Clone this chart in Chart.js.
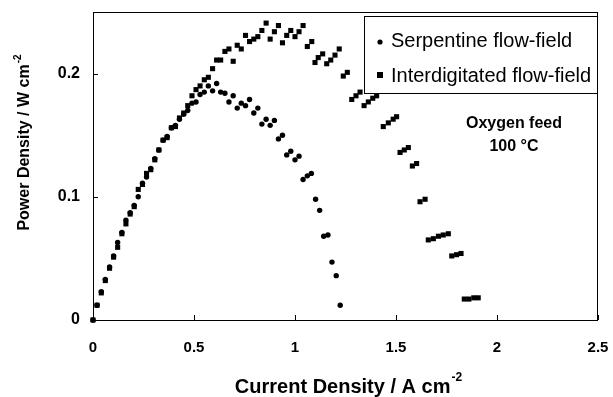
<!DOCTYPE html>
<html>
<head>
<meta charset="utf-8">
<script src="https://cdn.jsdelivr.net/npm/chart.js@4/dist/chart.umd.min.js"></script>
<style>
  html, body { margin: 0; padding: 0; background: #fff; }
  #wrap { width: 613px; height: 397px; }
</style>
</head>
<body>
<div id="wrap"><canvas id="chart" width="613" height="397"></canvas></div>
<script>
// serpentine flow-field (circles)
const serpX = [0, 0.020, 0.041, 0.061, 0.082, 0.102, 0.122, 0.143, 0.163, 0.184, 0.204, 0.224, 0.245, 0.265, 0.286, 0.306, 0.326, 0.347, 0.367, 0.388, 0.408, 0.428, 0.449, 0.469, 0.490, 0.510, 0.530, 0.551, 0.571, 0.592, 0.612, 0.632, 0.653, 0.673, 0.694, 0.714, 0.734, 0.755, 0.775, 0.796, 0.816, 0.836, 0.857, 0.877, 0.898, 0.918, 0.938, 0.959, 0.979, 1.000, 1.020, 1.040, 1.061, 1.081, 1.102, 1.122, 1.142, 1.163, 1.183, 1.204, 1.224];
const serpY = [0, 0.012, 0.023, 0.033, 0.043, 0.052, 0.063, 0.071, 0.081, 0.087, 0.093, 0.100, 0.111, 0.116, 0.123, 0.131, 0.138, 0.146, 0.149, 0.156, 0.158, 0.163, 0.167, 0.170, 0.176, 0.177, 0.183, 0.185, 0.190, 0.186, 0.192, 0.185, 0.184, 0.177, 0.182, 0.172, 0.176, 0.174, 0.179, 0.168, 0.172, 0.159, 0.163, 0.158, 0.162, 0.147, 0.150, 0.134, 0.137, 0.130, 0.133, 0.114, 0.117, 0.119, 0.098, 0.089, 0.068, 0.069, 0.047, 0.036, 0.012];

// interdigitated flow-field (squares)
const interX = [0, 0.020, 0.041, 0.061, 0.082, 0.102, 0.122, 0.143, 0.163, 0.184, 0.204, 0.224, 0.245, 0.265, 0.286, 0.306, 0.326, 0.347, 0.367, 0.388, 0.408, 0.428, 0.449, 0.469, 0.490, 0.510, 0.530, 0.551, 0.571, 0.592, 0.612, 0.632, 0.653, 0.673, 0.694, 0.714, 0.734, 0.755, 0.775, 0.796, 0.816, 0.836, 0.857, 0.877, 0.898, 0.918, 0.938, 0.959, 0.979, 1.000, 1.020, 1.040, 1.061, 1.083, 1.099, 1.115, 1.137, 1.157, 1.177, 1.198, 1.219, 1.239, 1.259, 1.281, 1.302, 1.322, 1.342, 1.363, 1.385, 1.404, 1.437, 1.462, 1.486, 1.503, 1.520, 1.541, 1.561, 1.581, 1.602, 1.619, 1.644, 1.660, 1.685, 1.710, 1.734, 1.759, 1.776, 1.800, 1.822, 1.838, 1.861, 1.885, 1.907];
const interY = [0, 0.012, 0.022, 0.032, 0.042, 0.051, 0.059, 0.070, 0.078, 0.086, 0.092, 0.106, 0.110, 0.119, 0.122, 0.130, 0.138, 0.146, 0.148, 0.156, 0.157, 0.164, 0.168, 0.174, 0.182, 0.187, 0.190, 0.195, 0.197, 0.204, 0.211, 0.211, 0.218, 0.220, 0.210, 0.223, 0.220, 0.231, 0.226, 0.228, 0.230, 0.235, 0.241, 0.228, 0.234, 0.239, 0.225, 0.231, 0.235, 0.230, 0.234, 0.239, 0.222, 0.226, 0.209, 0.213, 0.216, 0.208, 0.211, 0.215, 0.220, 0.198, 0.201, 0.179, 0.182, 0.185, 0.174, 0.177, 0.180, 0.182, 0.157, 0.160, 0.163, 0.165, 0.136, 0.138, 0.140, 0.125, 0.127, 0.096, 0.098, 0.065, 0.066, 0.068, 0.069, 0.070, 0.052, 0.053, 0.054, 0.017, 0.017, 0.018, 0.018];

const xTicks = [0, 0.5, 1, 1.5, 2, 2.5];
const yTicks = [0, 0.1, 0.2];
const seriesNames = ["Serpentine flow-field", "Interdigitated flow-field"];
const noteLines = ["Oxygen feed", "100 °C"];
const xTitle = ["Current Density / A cm", "-2"];
const yTitle = ["Power Density / W cm", "-2"];

const FONT = "'Liberation Sans', Arial, sans-serif";
const toPoints = (xs, ys) => xs.map((x, i) => ({ x: x, y: ys[i] }));

// text with a raised exponent, centred on (0,0) of the current transform
function supText(c, parts, size, supSize, rise) {
  c.font = "bold " + size + "px " + FONT;
  const w1 = c.measureText(parts[0]).width;
  c.font = "bold " + supSize + "px " + FONT;
  const w2 = c.measureText(parts[1]).width;
  const x0 = -(w1 + w2) / 2;
  c.textAlign = "left";
  c.textBaseline = "middle";
  c.font = "bold " + size + "px " + FONT;
  c.fillText(parts[0], x0, 0);
  c.font = "bold " + supSize + "px " + FONT;
  c.fillText(parts[1], x0 + w1 + 1, -rise);
}

// frame, inward ticks, axis titles, legend box and note
const decor = {
  id: "decor",
  afterDatasetsDraw(chart) {
    const c = chart.ctx, a = chart.chartArea;
    const sx = chart.scales.x, sy = chart.scales.y;
    c.save();
    c.strokeStyle = "#000";
    c.fillStyle = "#000";
    c.lineWidth = 1;
    c.strokeRect(a.left + 0.5, a.top + 0.5, a.right - a.left - 1, a.bottom - a.top);
    c.beginPath();
    xTicks.forEach(v => {
      const px = Math.round(sx.getPixelForValue(v)) + 0.5;
      c.moveTo(px, a.bottom); c.lineTo(px, a.bottom - 5);
    });
    yTicks.forEach(v => {
      const py = Math.round(sy.getPixelForValue(v)) + 0.5;
      c.moveTo(a.left, py); c.lineTo(a.left + 5, py);
    });
    c.stroke();

    // axis titles
    c.save();
    c.translate(348, 387);
    supText(c, xTitle, 20, 12, 9);
    c.restore();
    c.save();
    c.translate(25, 143);
    c.rotate(-Math.PI / 2);
    supText(c, yTitle, 16, 10, 7);
    c.restore();

    // legend box
    const bx = 364, by = 16, bw = a.right - bx, bh = 77;
    c.fillStyle = "#fff";
    c.fillRect(bx, by, bw, bh);
    c.strokeRect(bx + 0.5, by + 0.5, bw - 1, bh);
    c.fillStyle = "#000";
    c.font = "20px " + FONT;
    c.textAlign = "left";
    c.textBaseline = "middle";
    c.beginPath(); c.arc(380, 42, 2.6, 0, Math.PI * 2); c.fill();
    c.fillRect(377, 72, 6, 6);
    c.fillText(seriesNames[0], 391, 41);
    c.fillText(seriesNames[1], 391, 76);

    // note
    c.font = "bold 16px " + FONT;
    c.textAlign = "center";
    c.fillText(noteLines[0], 514, 124);
    c.fillText(noteLines[1], 514, 147);
    c.restore();
  }
};

new Chart(document.getElementById("chart"), {
  type: "scatter",
  data: {
    datasets: [
      {
        label: seriesNames[1],
        data: toPoints(interX, interY),
        pointStyle: "rect",
        pointRadius: 3.6,
        backgroundColor: "#000",
        borderColor: "#000",
        borderWidth: 0,
        clip: false
      },
      {
        label: seriesNames[0],
        data: toPoints(serpX, serpY),
        pointStyle: "circle",
        pointRadius: 2.7,
        backgroundColor: "#000",
        borderColor: "#000",
        borderWidth: 0,
        clip: false
      }
    ]
  },
  options: {
    responsive: false,
    animation: false,
    layout: { padding: { left: 0, right: 15, top: 12, bottom: 0 } },
    plugins: {
      legend: { display: false },
      tooltip: { enabled: false }
    },
    scales: {
      x: {
        type: "linear",
        min: 0, max: 2.5,
        afterBuildTicks: s => { s.ticks = xTicks.map(v => ({ value: v })); },
        afterFit: s => { s.height = 77; s.paddingLeft = 0; s.paddingRight = 0; },
        grid: { display: false, drawTicks: false },
        border: { display: false },
        ticks: {
          color: "#000",
          padding: 19,
          maxRotation: 0,
          callback: v => String(v),
          font: { family: FONT, size: 15, weight: "bold" }
        }
      },
      y: {
        type: "linear",
        min: 0, max: 0.25,
        afterBuildTicks: s => { s.ticks = yTicks.map(v => ({ value: v })); },
        afterFit: s => { s.width = 93; s.paddingTop = 0; s.paddingBottom = 0; },
        grid: { display: false, drawTicks: false },
        border: { display: false },
        ticks: {
          color: "#000",
          padding: 13,
          callback: v => String(v),
          font: { family: FONT, size: 16, weight: "bold" }
        }
      }
    }
  },
  plugins: [decor]
});
</script>
</body>
</html>
